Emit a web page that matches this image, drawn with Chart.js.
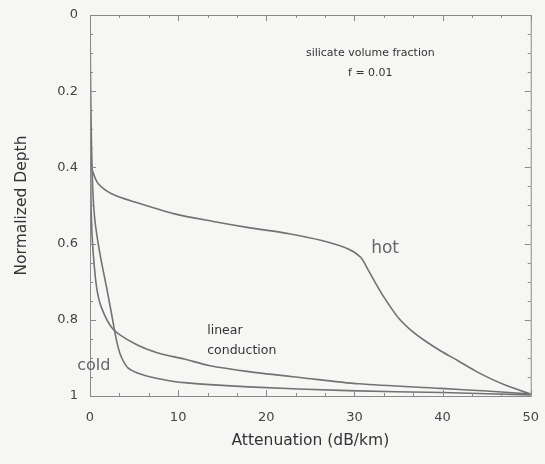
<!DOCTYPE html>
<html>
<head>
<meta charset="utf-8">
<script src="https://cdn.jsdelivr.net/npm/chart.js@4/dist/chart.umd.min.js"></script>
<style>
  html, body { margin: 0; padding: 0; background: #f6f6f4; }
  #wrap { width: 545px; height: 464px; }
</style>
</head>
<body>
<div id="wrap"><canvas id="chart" width="545" height="464"></canvas></div>
<script>
// curves: attenuation (dB/km) vs normalized depth
const hotX = [0, 0.05, 0.15, 0.3, 0.94, 2.45, 5.1, 9.6, 14, 18, 22.6, 26.3, 29.3, 30.7, 31.6, 32.7, 33.7, 35.0, 36.5, 38.0, 39.8, 41.8, 43.7, 45.5, 47.4, 50];
const hotDepth = [0, 0.3, 0.39, 0.41, 0.443, 0.469, 0.491, 0.522, 0.542, 0.558, 0.574, 0.592, 0.614, 0.636, 0.671, 0.716, 0.753, 0.795, 0.829, 0.855, 0.882, 0.908, 0.934, 0.955, 0.974, 0.995];

const linearX = [0, 0.03, 0.1, 0.2, 0.37, 0.75, 1.3, 2.6, 5.1, 7.7, 10.7, 13.5, 18, 24, 30.5, 39.8, 45, 50];
const linearDepth = [0, 0.3, 0.48, 0.56, 0.627, 0.715, 0.768, 0.824, 0.863, 0.887, 0.903, 0.92, 0.936, 0.952, 0.968, 0.98, 0.987, 0.995];

const coldX = [0, 0.1, 0.3, 0.56, 1.13, 1.88, 2.45, 2.8, 3.2, 3.6, 4.3, 5.8, 8.1, 10.7, 18, 29.3, 40, 50];
const coldDepth = [0, 0.25, 0.45, 0.54, 0.627, 0.715, 0.785, 0.83, 0.873, 0.9, 0.926, 0.943, 0.956, 0.965, 0.976, 0.986, 0.991, 0.997];

const xTicks = [0, 10, 20, 30, 40, 50];
const yTicks = [0, 0.2, 0.4, 0.6, 0.8, 1];

function toPoints(xs, ys) {
  return xs.map((x, i) => ({ x: x, y: ys[i] }));
}

// text placed in data units
const notes = [
  { text: "silicate volume fraction", x: 31.8, y: 0.1, size: 11, color: "#333", align: "center" },
  { text: "f = 0.01", x: 31.8, y: 0.153, size: 11, color: "#333", align: "center" },
  { text: "hot", x: 31.9, y: 0.614, size: 17, color: "#666", align: "left" },
  { text: "linear", x: 13.3, y: 0.83, size: 12.5, color: "#333", align: "left" },
  { text: "conduction", x: 13.3, y: 0.882, size: 12.5, color: "#333", align: "left" },
  { text: "cold", x: -1.45, y: 0.92, size: 16, color: "#666", align: "left" },
];

const framePlugin = {
  id: "frame",
  afterDraw(chart) {
    const ctx = chart.ctx;
    const a = chart.chartArea;
    const xs = chart.scales.x;
    const ys = chart.scales.y;
    ctx.save();
    ctx.strokeStyle = "#8a8a8a";
    ctx.lineWidth = 1;
    ctx.strokeRect(a.left + 0.5, a.top + 0.5, a.right - a.left, a.bottom - a.top);

    ctx.beginPath();
    for (let v = 0; v <= 50.01; v += 10 / 3) {
      const px = Math.round(xs.getPixelForValue(v)) + 0.5;
      const major = Math.abs(v / 10 - Math.round(v / 10)) < 0.01;
      const len = major ? 6 : 3;
      ctx.moveTo(px, a.bottom);
      ctx.lineTo(px, a.bottom - len);
      ctx.moveTo(px, a.top);
      ctx.lineTo(px, a.top + len);
    }
    for (let v = 0; v <= 1.001; v += 0.05) {
      const py = Math.round(ys.getPixelForValue(v)) + 0.5;
      const major = Math.abs(v / 0.2 - Math.round(v / 0.2)) < 0.01;
      const len = major ? 6 : 3;
      ctx.moveTo(a.left, py);
      ctx.lineTo(a.left + len, py);
      ctx.moveTo(a.right, py);
      ctx.lineTo(a.right - len, py);
    }
    ctx.stroke();

    ctx.textBaseline = "middle";
    notes.forEach((n) => {
      ctx.font = n.size + 'px "DejaVu Sans"';
      ctx.fillStyle = n.color;
      ctx.textAlign = n.align;
      ctx.fillText(n.text, xs.getPixelForValue(n.x), ys.getPixelForValue(n.y));
    });
    ctx.restore();
  },
};

const lineStyle = {
  borderColor: "#727272",
  borderWidth: 1.6,
  pointRadius: 0,
  showLine: true,
  tension: 0.3,
  fill: false,
};

new Chart(document.getElementById("chart").getContext("2d"), {
  type: "scatter",
  data: {
    datasets: [
      Object.assign({ label: "hot", data: toPoints(hotX, hotDepth) }, lineStyle),
      Object.assign({ label: "linear conduction", data: toPoints(linearX, linearDepth) }, lineStyle),
      Object.assign({ label: "cold", data: toPoints(coldX, coldDepth) }, lineStyle),
    ],
  },
  options: {
    responsive: false,
    animation: false,
    layout: { padding: { left: 0, top: 15, right: 10, bottom: 0 } },
    plugins: {
      legend: { display: false },
      tooltip: { enabled: false },
    },
    scales: {
      x: {
        type: "linear",
        min: 0,
        max: 50,
        afterBuildTicks: (scale) => {
          scale.ticks = xTicks.map((v) => ({ value: v }));
        },
        ticks: {
          color: "#444",
          font: { family: "DejaVu Sans", size: 13 },
          padding: 6,
          maxRotation: 0,
        },
        grid: { display: false },
        border: { display: false },
        title: {
          display: true,
          text: "Attenuation (dB/km)",
          color: "#333",
          font: { family: "DejaVu Sans", size: 15.5 },
          padding: { top: 4, bottom: 14 },
        },
        afterFit: (scale) => {
          scale.height = 68;
        },
      },
      y: {
        type: "linear",
        reverse: true,
        min: 0,
        max: 1,
        afterBuildTicks: (scale) => {
          scale.ticks = yTicks.map((v) => ({ value: v }));
        },
        ticks: {
          color: "#444",
          font: { family: "DejaVu Sans", size: 13 },
          padding: 4,
          callback: (v) => String(Number(v.toFixed(2))),
        },
        grid: { display: false },
        border: { display: false },
        title: {
          display: true,
          text: "Normalized Depth",
          color: "#333",
          font: { family: "DejaVu Sans", size: 15.5 },
          padding: { top: 13, bottom: 4 },
        },
        afterFit: (scale) => {
          scale.width = 90;
        },
      },
    },
  },
  plugins: [framePlugin],
});
</script>
</body>
</html>
